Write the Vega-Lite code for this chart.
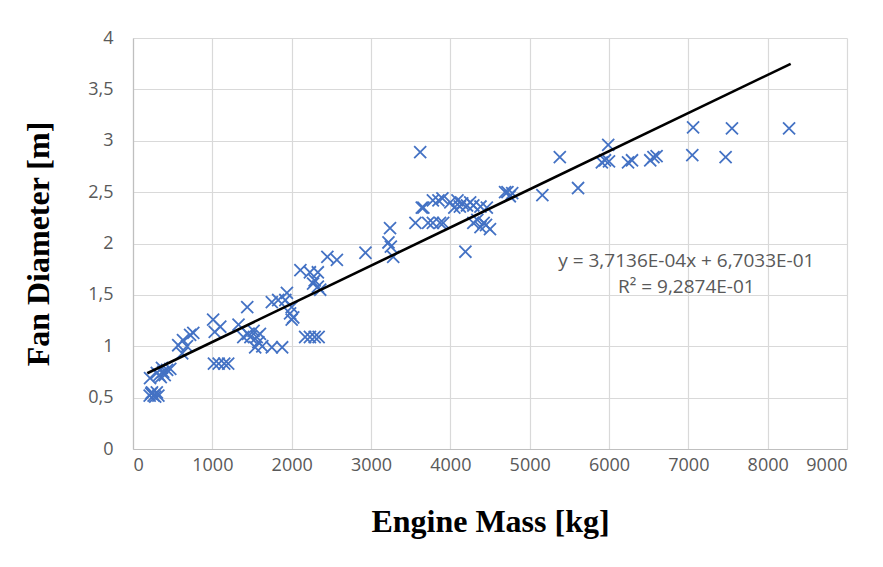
{
  "$schema": "https://vega.github.io/schema/vega-lite/v6.json",
  "width": 714,
  "height": 411,
  "autosize": {"type": "none"},
  "padding": {"left": 133, "top": 38, "right": 36, "bottom": 118},
  "background": "white",
  "config": {
    "view": {"stroke": null},
    "axis": {
      "gridColor": "#d9d9d9",
      "gridWidth": 1.2,
      "domainColor": "#bfbfbf",
      "domainWidth": 1.2,
      "ticks": false,
      "labelColor": "#595959",
      "labelFont": "Open Sans",
      "labelFontSize": 18,
      "titleFont": "Liberation Serif",
      "titleFontWeight": "bold",
      "titleFontSize": 32,
      "titleColor": "#000000"
    }
  },
  "datasets": {
    "pts": [
      {"mass": 210, "fan": 0.52}, {"mass": 240, "fan": 0.55}, {"mass": 260, "fan": 0.52}, {"mass": 280, "fan": 0.51}, {"mass": 300, "fan": 0.55}, {"mass": 320, "fan": 0.52}, {"mass": 230, "fan": 0.54},
      {"mass": 215, "fan": 0.69}, {"mass": 300, "fan": 0.74}, {"mass": 365, "fan": 0.79}, {"mass": 430, "fan": 0.77}, {"mass": 400, "fan": 0.72}, {"mass": 350, "fan": 0.70}, {"mass": 470, "fan": 0.78}, {"mass": 380, "fan": 0.75}, {"mass": 330, "fan": 0.72},
      {"mass": 570, "fan": 1.01}, {"mass": 620, "fan": 0.93}, {"mass": 630, "fan": 1.06}, {"mass": 720, "fan": 1.11}, {"mass": 680, "fan": 1.0}, {"mass": 760, "fan": 1.13},
      {"mass": 1010, "fan": 1.26}, {"mass": 1100, "fan": 1.19}, {"mass": 1030, "fan": 1.14}, {"mass": 1020, "fan": 0.83}, {"mass": 1080, "fan": 0.83}, {"mass": 1150, "fan": 0.83}, {"mass": 1200, "fan": 0.83},
      {"mass": 1330, "fan": 1.21}, {"mass": 1440, "fan": 1.38}, {"mass": 1390, "fan": 1.09}, {"mass": 1480, "fan": 1.09}, {"mass": 1560, "fan": 1.09}, {"mass": 1580, "fan": 1.04}, {"mass": 1540, "fan": 0.99}, {"mass": 1450, "fan": 1.12}, {"mass": 1520, "fan": 1.15}, {"mass": 1600, "fan": 1.12}, {"mass": 1630, "fan": 1.0}, {"mass": 1750, "fan": 0.99}, {"mass": 1880, "fan": 0.99},
      {"mass": 1750, "fan": 1.43}, {"mass": 1830, "fan": 1.45}, {"mass": 1920, "fan": 1.45}, {"mass": 1940, "fan": 1.52}, {"mass": 1980, "fan": 1.32}, {"mass": 2000, "fan": 1.26}, {"mass": 2020, "fan": 1.28}, {"mass": 2000, "fan": 1.38},
      {"mass": 2110, "fan": 1.74}, {"mass": 2230, "fan": 1.72}, {"mass": 2330, "fan": 1.72}, {"mass": 2290, "fan": 1.64}, {"mass": 2270, "fan": 1.61}, {"mass": 2330, "fan": 1.58}, {"mass": 2360, "fan": 1.55}, {"mass": 2450, "fan": 1.87}, {"mass": 2570, "fan": 1.84},
      {"mass": 2170, "fan": 1.09}, {"mass": 2230, "fan": 1.09}, {"mass": 2290, "fan": 1.09}, {"mass": 2340, "fan": 1.09},
      {"mass": 2930, "fan": 1.91}, {"mass": 3240, "fan": 2.15}, {"mass": 3220, "fan": 2.01}, {"mass": 3250, "fan": 1.97}, {"mass": 3280, "fan": 1.87},
      {"mass": 3620, "fan": 2.89}, {"mass": 3660, "fan": 2.35}, {"mass": 3560, "fan": 2.2}, {"mass": 3720, "fan": 2.2}, {"mass": 3780, "fan": 2.2}, {"mass": 3870, "fan": 2.2}, {"mass": 3910, "fan": 2.2},
      {"mass": 3850, "fan": 2.42}, {"mass": 3780, "fan": 2.42}, {"mass": 3900, "fan": 2.44}, {"mass": 4000, "fan": 2.4}, {"mass": 4090, "fan": 2.42}, {"mass": 4150, "fan": 2.39}, {"mass": 4210, "fan": 2.37}, {"mass": 4290, "fan": 2.37}, {"mass": 4380, "fan": 2.36}, {"mass": 4460, "fan": 2.35}, {"mass": 4050, "fan": 2.35}, {"mass": 4120, "fan": 2.36}, {"mass": 4250, "fan": 2.4}, {"mass": 3640, "fan": 2.35},
      {"mass": 4290, "fan": 2.2}, {"mass": 4340, "fan": 2.23}, {"mass": 4380, "fan": 2.16}, {"mass": 4450, "fan": 2.18}, {"mass": 4500, "fan": 2.14}, {"mass": 4420, "fan": 2.2}, {"mass": 4190, "fan": 1.92},
      {"mass": 4690, "fan": 2.5}, {"mass": 4720, "fan": 2.5}, {"mass": 4780, "fan": 2.49}, {"mass": 4750, "fan": 2.46},
      {"mass": 5160, "fan": 2.47}, {"mass": 5380, "fan": 2.84}, {"mass": 5610, "fan": 2.54}, {"mass": 5990, "fan": 2.96}, {"mass": 5950, "fan": 2.81}, {"mass": 5910, "fan": 2.79}, {"mass": 6000, "fan": 2.8}, {"mass": 6240, "fan": 2.79}, {"mass": 6290, "fan": 2.81},
      {"mass": 6520, "fan": 2.81}, {"mass": 6560, "fan": 2.84}, {"mass": 6600, "fan": 2.85}, {"mass": 7050, "fan": 2.86}, {"mass": 7470, "fan": 2.84}, {"mass": 7060, "fan": 3.13}, {"mass": 7550, "fan": 3.12}, {"mass": 8270, "fan": 3.12}
    ],
    "trend": [
      {"mass": 180, "fan": 0.7372},
      {"mass": 8290, "fan": 3.7489}
    ],
    "notes": [
      {"mass": 6975, "fan": 1.83, "label": "y = 3,7136E-04x + 6,7033E-01"},
      {"mass": 6975, "fan": 1.575, "label": "R² = 9,2874E-01"}
    ]
  },
  "layer": [
    {
      "data": {"name": "pts"},
      "mark": {"type": "point", "shape": "M-1,-1L1,1M-1,1L1,-1", "filled": false, "stroke": "#4472c4", "strokeWidth": 1.8, "opacity": 1, "size": 145},
      "encoding": {
        "x": {
          "field": "mass", "type": "quantitative",
          "scale": {"domain": [0, 9000], "nice": false},
          "axis": {"values": [0, 1000, 2000, 3000, 4000, 5000, 6000, 7000, 8000, 9000], "format": "d", "title": "Engine Mass [kg]", "labelPadding": 7, "titlePadding": 32}
        },
        "y": {
          "field": "fan", "type": "quantitative",
          "scale": {"domain": [0, 4], "nice": false},
          "axis": {"values": [0, 0.5, 1, 1.5, 2, 2.5, 3, 3.5, 4], "labelExpr": "replace(toString(datum.value), '.', ',')", "title": "Fan Diameter [m]", "labelPadding": 20, "titlePadding": 32}
        }
      }
    },
    {
      "data": {"name": "trend"},
      "mark": {"type": "line", "color": "#000000", "strokeWidth": 2.6},
      "encoding": {
        "x": {"field": "mass", "type": "quantitative"},
        "y": {"field": "fan", "type": "quantitative"}
      }
    },
    {
      "data": {"name": "notes"},
      "mark": {"type": "text", "font": "Open Sans", "fontSize": 19, "color": "#595959", "align": "center", "baseline": "middle"},
      "encoding": {
        "x": {"field": "mass", "type": "quantitative"},
        "y": {"field": "fan", "type": "quantitative"},
        "text": {"field": "label"}
      }
    }
  ]
}
